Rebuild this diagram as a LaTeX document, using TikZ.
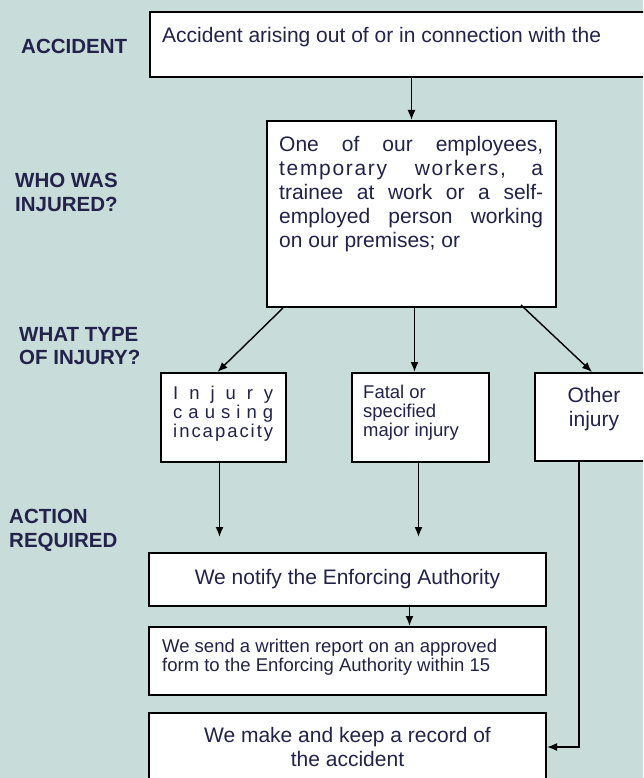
\documentclass[tikz,border=0pt]{standalone}
\usepackage{fontspec}
\setmainfont{Liberation Sans}
\usetikzlibrary{arrows.meta,positioning,calc}
\definecolor{bgteal}{HTML}{C8DCD9}
\definecolor{ink}{HTML}{22224A}

\begin{document}
\begin{tikzpicture}[
    x=1pt, y=-1pt,
    >={Latex[length=10pt,width=8pt]},
    box/.style={rectangle, draw, line width=2pt, fill=white, anchor=north west, inner sep=0pt},
    body/.style={font=\fontsize{21}{24}\selectfont, text=ink, inner sep=0pt},
    small/.style={font=\fontsize{18.5}{19}\selectfont, text=ink, inner sep=0pt},
    heading/.style={font=\fontsize{20.5}{23.5}\selectfont\bfseries, text=ink, align=left, inner sep=0pt, anchor=north west},
    link/.style={->, line width=1.6pt}
]
\useasboundingbox (0,0) rectangle (643,778);
\fill[bgteal] (0,0) rectangle (643,778);
\clip (0,0) rectangle (643,778);

% Headings on the left
\node[heading] (hacc) at (21,39) {ACCIDENT};
\node[heading] (hwho) at (15,173) {WHO WAS\\INJURED?};
\node[heading] (htype) at (19,327) {WHAT TYPE\\OF INJURY?};
\node[heading] (hact) at (9,509) {ACTION\\REQUIRED};

% Accident
\node[box, minimum width=531pt, minimum height=65pt] (acc) at (149,11) {};
\node[body, anchor=north west, below right=16pt and 13pt of acc.north west] (acctxt) {Accident arising out of or in connection with the};

% Who was injured
\node[box, minimum width=289pt, minimum height=186pt] (who) at (266,120) {};
\node[body, text width=264pt, align=justify, below right=16pt and 13pt of who.north west] (whotxt)
    {One of our employees,\linebreak {\addfontfeature{LetterSpace=8}temporary workers,} a\linebreak trainee at work or a self-\linebreak employed person working\linebreak on our premises; or};

% Types of injury
\node[box, minimum width=125pt, minimum height=89pt] (inj) at (160,372) {};
\node[small, text width=100pt, align=left, below right=14pt and 13pt of inj.north west] (injtxt)
    {I\hfill n\hfill j\hfill u\hfill r\hfill y\\c\hfill a\hfill u\hfill s\hfill i\hfill n\hfill g\\i\hfill n\hfill c\hfill a\hfill p\hfill a\hfill c\hfill i\hfill t\hfill y};
\node[box, minimum width=137pt, minimum height=89pt] (fat) at (351,372) {};
\node[small, align=left, below right=13pt and 12pt of fat.north west] (fattxt) {Fatal or\\specified\\major injury};
\node[box, minimum width=118pt, minimum height=88pt] (oth) at (534,372) {};
\node[body, align=center, below=15pt of oth.north] (othtxt) {Other\\injury};

% Action required
\node[box, body, minimum width=397pt, minimum height=53pt, anchor=north west] (ntf) at (148,552) {We notify the Enforcing Authority};
\node[box, minimum width=397pt, minimum height=68pt] (rep) at (148,626) {};
\node[small, align=left, below right=13pt and 14pt of rep.north west] (reptxt)
    {We send a written report on an approved\\form to the Enforcing Authority within 15};
\node[box, minimum width=397pt, minimum height=68pt] (rec) at (148,712) {};
\node[body, align=center, below=15pt of rec.north] (rectxt) {We make and keep a record of\\the accident};

% Arrows
\draw[link] (acc.south -| who.north) -- (who.north);
\draw[link, line width=1.4pt] ($(who.south west)+(17,0)$) -- ($(inj.north)+(-6,0)$);
\draw[link] ($(who.south)+(3,0)$) -- ($(who.south |- fat.north)+(3,0)$);
\draw[link, line width=1.4pt] ($(who.south east)+(-36,-3)$) -- ($(oth.north)+(-2,0)$);
\draw[link] ($(inj.south)+(-4,0)$) -- ($(inj.south |- ntf.north)+(-4,-15)$);
\draw[link] ($(fat.south)+(-2,0)$) -- ($(fat.south |- ntf.north)+(-2,-15)$);
\draw[link] ($(ntf.south)+(62,0)$) -- ($(rep.north)+(62,0)$);
\draw[link] ($(oth.south west)+(45,0)$) |- (rec.east);
\end{tikzpicture}
\end{document}
